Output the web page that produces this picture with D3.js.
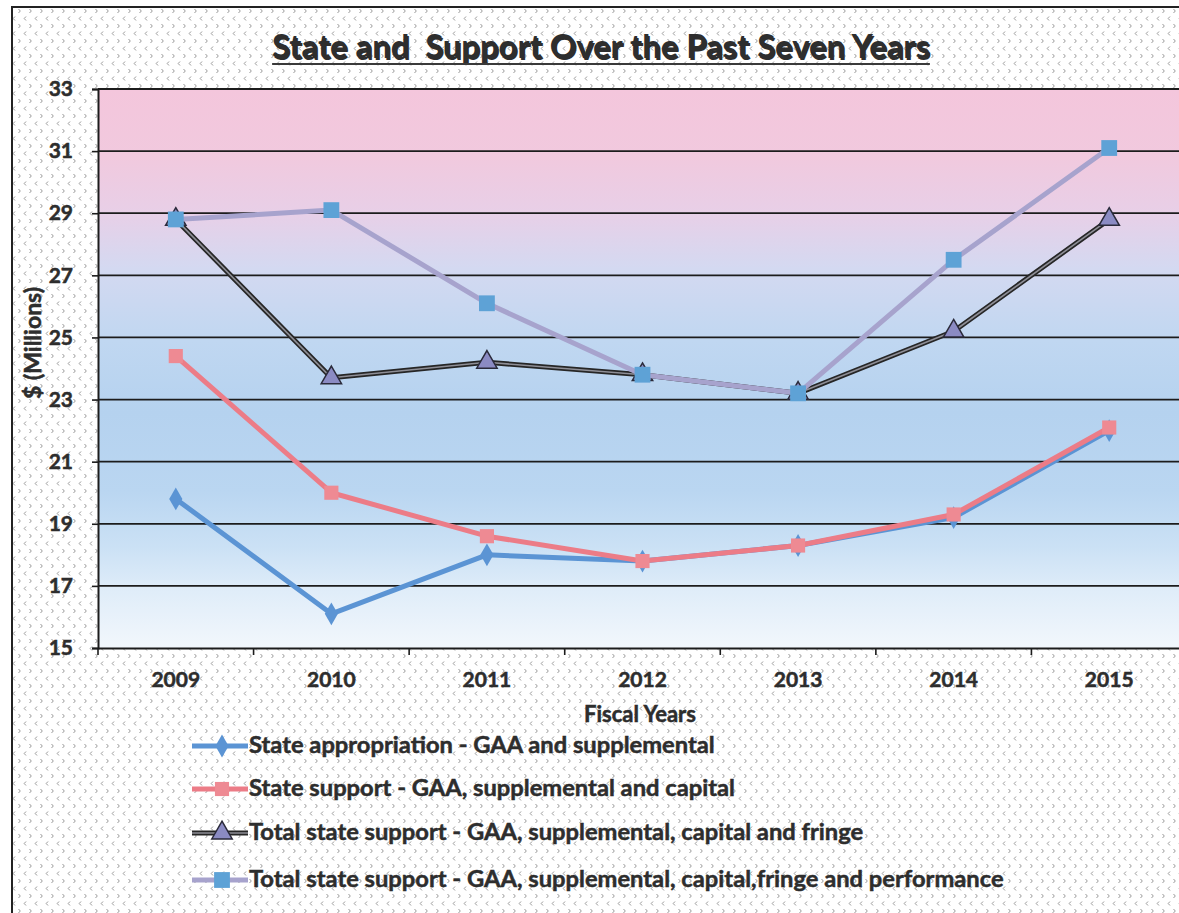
<!DOCTYPE html>
<html>
<head>
<meta charset="utf-8">
<script src="https://cdn.jsdelivr.net/npm/d3@7"></script>
<style>
  html, body { margin: 0; padding: 0; background: #ffffff; }
  svg { display: block; }
  text { font-family: Lato, "Open Sans", sans-serif; font-weight: 700; fill: #2e2e2e; }
</style>
</head>
<body>
<svg id="chart" width="1179" height="913"></svg>
<script>
// ---- data ($ millions by fiscal year) ----
const years = ["2009", "2010", "2011", "2012", "2013", "2014", "2015"];
const appropriation    = [19.8, 16.1, 18.0, 17.8, 18.3, 19.2, 22.0];
const stateSupport     = [24.4, 20.0, 18.6, 17.8, 18.3, 19.3, 22.1];
const totalFringe      = [28.8, 23.7, 24.2, 23.8, 23.2, 25.2, 28.8];
const totalPerformance = [28.8, 29.1, 26.1, 23.8, 23.2, 27.5, 31.1];
const yTicks = [15, 17, 19, 21, 23, 25, 27, 29, 31, 33];
const seriesNames = [
  "State appropriation - GAA and supplemental",
  "State support - GAA, supplemental and capital",
  "Total state support - GAA, supplemental, capital and fringe",
  "Total state support - GAA, supplemental, capital,fringe and performance"
];
const titleText = "State and  Support Over the Past Seven Years";
const xTitle = "Fiscal Years";
const yTitle = "$ (Millions)";

// ---- layout ----
const plot = { left: 98, right: 1187, top: 89, bottom: 648 };
const svg = d3.select("#chart");
const defs = svg.append("defs");

// dotted chevron texture for the chart area
const pat = defs.append("pattern").attr("id", "chev")
  .attr("patternUnits", "userSpaceOnUse").attr("width", 11).attr("height", 15);
pat.append("rect").attr("width", 11).attr("height", 15).attr("fill", "#ffffff");
pat.append("path").attr("d", "M4,1.5 L2.2,3.5 L4,5.5").attr("fill", "none")
  .attr("stroke", "#9a9a9a").attr("stroke-width", 1);
pat.append("path").attr("d", "M7.5,9 L9.3,11 L7.5,13").attr("fill", "none")
  .attr("stroke", "#9a9a9a").attr("stroke-width", 1);

// plot-area vertical wash: pink at top, blue in the middle, near white at bottom
const grad = defs.append("linearGradient").attr("id", "wash")
  .attr("x1", 0).attr("y1", 0).attr("x2", 0).attr("y2", 1);
[
  [0.00, "#f4c6dc"], [0.12, "#f1c9de"], [0.22, "#e8cfe7"], [0.32, "#d4d9f1"],
  [0.45, "#c0d7f1"], [0.58, "#b5d2ef"], [0.72, "#bad6f1"], [0.82, "#cbe1f5"],
  [0.90, "#e0edf9"], [1.00, "#f2f7fc"]
].forEach(([o, c]) => grad.append("stop").attr("offset", o).attr("stop-color", c));

// chart frame
svg.append("rect").attr("x", 12).attr("y", 7).attr("width", 1200).attr("height", 1000)
  .attr("fill", "url(#chev)").attr("stroke", "#222").attr("stroke-width", 2);

// ---- scales ----
const x = d3.scaleBand().domain(years).range([plot.left, plot.right]).padding(0);
const cx = d => x(d) + x.bandwidth() / 2;
const y = d3.scaleLinear().domain([15, 33]).range([plot.bottom, plot.top]);

svg.append("rect").attr("x", plot.left).attr("y", plot.top)
  .attr("width", plot.right - plot.left).attr("height", plot.bottom - plot.top)
  .attr("fill", "url(#wash)");

// horizontal gridlines
svg.append("g").selectAll("line").data(yTicks.filter(v => v > 15)).join("line")
  .attr("x1", plot.left).attr("x2", plot.right)
  .attr("y1", d => y(d)).attr("y2", d => y(d))
  .attr("stroke", "#1c1c1c").attr("stroke-width", 1.8);

// heavier weight for axis text
const heavy = sel => sel.attr("fill", "#2a2a2a").attr("stroke", "#2a2a2a")
  .attr("stroke-width", 0.5).style("font-family", "Lato, sans-serif").style("font-weight", 700);

// y axis
const yAxis = svg.append("g").attr("transform", `translate(${plot.left},0)`)
  .call(d3.axisLeft(y).tickValues(yTicks).tickSize(6).tickPadding(19).tickFormat(d3.format("d")));
yAxis.select(".domain").attr("stroke", "#1c1c1c").attr("stroke-width", 2);
yAxis.selectAll(".tick line").attr("stroke", "#1c1c1c").attr("stroke-width", 1.6);
yAxis.selectAll(".tick text").style("font-size", "21px").call(heavy);

// x axis: labels centred in each band, tick marks on band boundaries
const xAxis = svg.append("g").attr("transform", `translate(0,${plot.bottom})`)
  .call(d3.axisBottom(x).tickSize(0).tickPadding(24));
xAxis.select(".domain").attr("stroke", "#1c1c1c").attr("stroke-width", 2);
xAxis.selectAll(".tick text").style("font-size", "21px").call(heavy);
svg.append("g").selectAll("line").data(years).join("line")
  .attr("x1", d => x(d)).attr("x2", d => x(d))
  .attr("y1", plot.bottom).attr("y2", plot.bottom + 7)
  .attr("stroke", "#1c1c1c").attr("stroke-width", 1.6);

// axis titles
svg.append("text").attr("x", 640).attr("y", 722).attr("text-anchor", "middle")
  .style("font-size", "22px").call(heavy).text(xTitle);
svg.append("text").attr("transform", "translate(41,343) rotate(-90)")
  .attr("text-anchor", "middle").style("font-size", "23px").call(heavy).text(yTitle);

// title, underlined, with a soft drop shadow
const titleShadow = svg.append("text").attr("x", 602.5).attr("y", 59.5).attr("text-anchor", "middle")
  .style("font-size", "30px").attr("fill", "#b0b0b0").attr("xml:space", "preserve").text(titleText);
const title = svg.append("text").attr("x", 601).attr("y", 58).attr("text-anchor", "middle")
  .style("font-size", "30px").attr("fill", "#3a3a3a").attr("xml:space", "preserve").text(titleText);
{
  const w = title.node().getComputedTextLength();
  const fs = 30 * 658 / w;
  title.style("font-size", fs + "px");
  titleShadow.style("font-size", fs + "px");
  const w2 = title.node().getComputedTextLength();
  svg.append("line").attr("x1", 601 - w2 / 2).attr("x2", 601 + w2 / 2)
    .attr("y1", 64).attr("y2", 64).attr("stroke", "#3a3a3a").attr("stroke-width", 2);
}

// ---- series ----
const styles = [
  { values: appropriation,    line: "#5b94d4", width: 5, marker: "diamond", fill: "#5b94d4", size: 150 },
  { values: stateSupport,     line: "#ec7c87", width: 5, marker: "square",  fill: "#ee8a93", size: 200 },
  { values: totalFringe,      line: "#262626", width: 5, marker: "triangle", fill: "#8b8bc3", size: 180, inner: "#8e8e96" },
  { values: totalPerformance, line: "#a7a3cd", width: 5, marker: "square",  fill: "#5ea2d6", size: 250 }
];
const symbolOf = m => m === "diamond" ? d3.symbolDiamond : m === "square" ? d3.symbolSquare : d3.symbolTriangle;
const lineGen = d3.line().x((d, i) => cx(years[i])).y(d => y(d));

function drawMarker(g, s, px, py) {
  const p = g.append("path").attr("d", d3.symbol(symbolOf(s.marker), s.size)())
    .attr("transform", `translate(${px},${py})`).attr("fill", s.fill);
  if (s.marker === "triangle") p.attr("stroke", "#2a2a3a").attr("stroke-width", 1.5);
}

styles.forEach(s => {
  const g = svg.append("g");
  g.append("path").datum(s.values).attr("d", lineGen).attr("fill", "none")
    .attr("stroke", s.line).attr("stroke-width", s.width).attr("stroke-linejoin", "round");
  if (s.inner) {
    g.append("path").datum(s.values).attr("d", lineGen).attr("fill", "none")
      .attr("stroke", s.inner).attr("stroke-width", 1.6).attr("stroke-linejoin", "round");
  }
  s.values.forEach((v, i) => drawMarker(g, s, cx(years[i]), y(v)));
});

// ---- legend ----
const legend = svg.append("g");
const legendY = [746, 789, 833, 880];
const labels = [];
styles.forEach((s, i) => {
  const ly = legendY[i];
  legend.append("line").attr("x1", 192).attr("x2", 248).attr("y1", ly).attr("y2", ly)
    .attr("stroke", s.line).attr("stroke-width", s.width);
  if (s.inner) legend.append("line").attr("x1", 192).attr("x2", 248).attr("y1", ly).attr("y2", ly)
    .attr("stroke", s.inner).attr("stroke-width", 1.6);
  drawMarker(legend, s, 222, ly);
  labels.push(legend.append("text").attr("x", 249).attr("y", ly + 7)
    .style("font-size", "21px").call(heavy).text(seriesNames[i]));
});
{
  const w = labels[3].node().getComputedTextLength();
  const fs = 21 * 755 / w;
  labels.forEach(t => t.style("font-size", fs + "px"));
}
</script>
</body>
</html>
